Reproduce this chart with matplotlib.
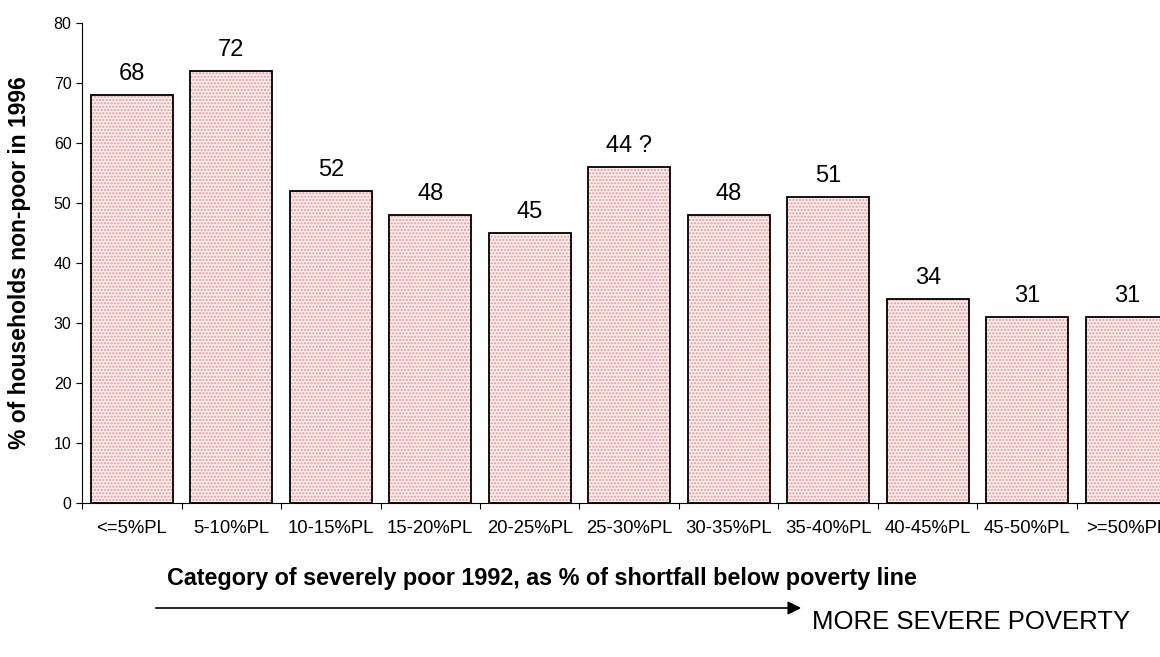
import numpy as np
import matplotlib
matplotlib.use('Agg')
import matplotlib.pyplot as plt

plt.rcParams['font.family'] = ['Liberation Sans', 'DejaVu Sans']

categories = ['<=5%PL', '5-10%PL', '10-15%PL', '15-20%PL', '20-25%PL', '25-30%PL',
              '30-35%PL', '35-40%PL', '40-45%PL', '45-50%PL', '>=50%PL']
values = [68, 72, 52, 48, 45, 56, 48, 51, 34, 31, 31]
value_labels = ['68', '72', '52', '48', '45', '44 ?', '48', '51', '34', '31', '31']

fig = plt.figure(figsize=(11.6, 6.57), dpi=100)
ax = fig.add_axes([0.0707, 0.2344, 0.9435, 0.7306])

x = np.arange(len(categories))
# pink dotted fill, then black outline on top
ax.bar(x, values, width=0.82, color='#fff0f0', hatch='.....', edgecolor='#f29090', linewidth=0)
ax.bar(x, values, width=0.82, facecolor='none', edgecolor='black', linewidth=1.3)

for xi, v, lab in zip(x, values, value_labels):
    ax.text(xi, v + 2.5, lab, ha='center', va='baseline', fontsize=17)

ax.set_xlim(-0.5, len(categories) - 0.5)
ax.set_ylim(0, 80)
ax.set_yticks(range(0, 81, 10))
ax.tick_params(axis='y', labelsize=11.5, length=4, direction='out')

ax.set_xticks(np.arange(-0.5, len(categories), 1.0))
ax.set_xticklabels([])
ax.set_xticks(x, minor=True)
ax.set_xticklabels(categories, minor=True, fontsize=13.3)
ax.tick_params(axis='x', which='major', length=4, direction='out')
ax.tick_params(axis='x', which='minor', length=0, pad=12)

for s in ['top', 'right']:
    ax.spines[s].set_visible(False)

ax.set_ylabel('% of households non-poor in 1996', fontsize=16.5, fontweight='bold', labelpad=16)

fig.text(542 / 1160, 1 - 579 / 657, 'Category of severely poor 1992, as % of shortfall below poverty line',
         ha='center', va='center', fontsize=16.8, fontweight='bold')

fig.patches.append(matplotlib.patches.FancyArrowPatch(
    (153 / 1160, 1 - 608 / 657), (804 / 1160, 1 - 608 / 657),
    transform=fig.transFigure, arrowstyle='-|>', mutation_scale=20,
    color='black', linewidth=1.2))
fig.text(812 / 1160, 1 - 622 / 657, 'MORE SEVERE POVERTY', ha='left', va='center', fontsize=18.5)

fig.savefig('out.png', dpi=100)
